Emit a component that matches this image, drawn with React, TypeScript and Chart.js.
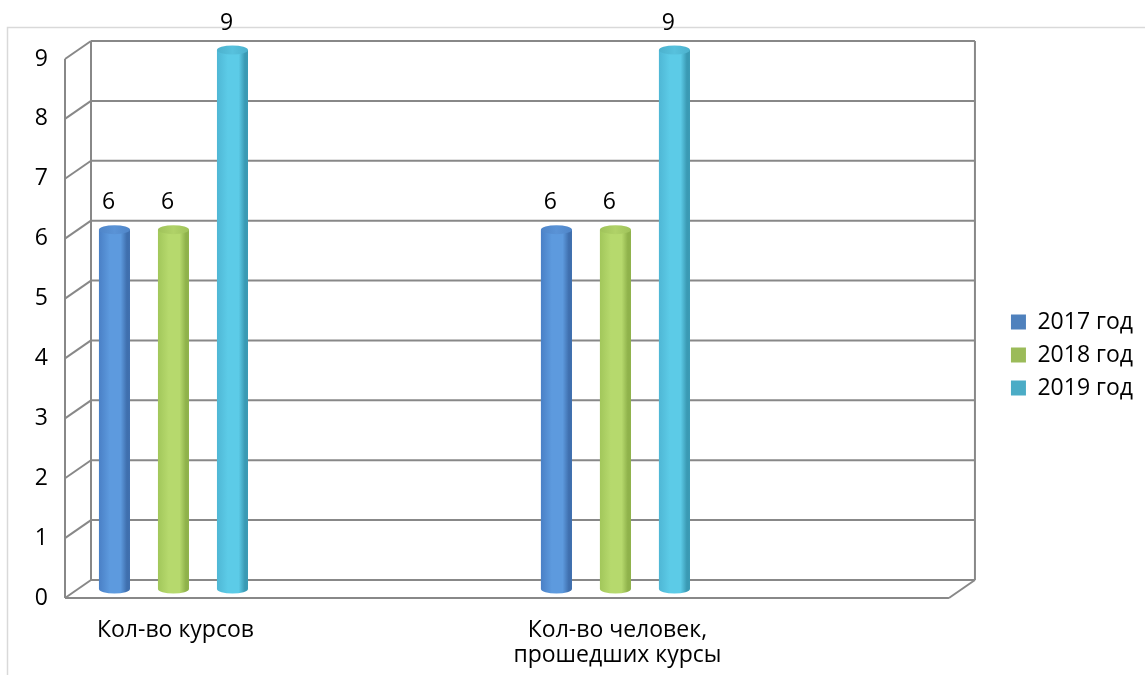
import React, { useEffect, useRef } from 'react';
import { Chart, registerables } from 'chart.js';

Chart.register(...registerables);

// ---- data ----
const CATEGORIES: string[][] = [['Кол-во курсов'], ['Кол-во человек,', 'прошедших курсы']];
const SERIES_LABELS: string[] = ['2017 год', '2018 год', '2019 год'];
const VALUES_2017: number[] = [6, 6];
const VALUES_2018: number[] = [6, 6];
const VALUES_2019: number[] = [9, 9];
const Y_TICKS: number[] = [0, 1, 2, 3, 4, 5, 6, 7, 8, 9];

// ---- styles ----
const FONT_FAMILY = '"Open Sans", "Noto Sans", sans-serif';
const FONT_SIZE = 23;
const LEGEND_COLORS = ['#4f81bd', '#9bbb59', '#4bacc6'];
const CYL = [
  { edgeL: '#4a80c6', mid: '#5d9ade', edgeR: '#3f6fae', lid: '#4f85c8', lidHi: '#5a93d6' },
  { edgeL: '#a2c75b', mid: '#b6d96d', edgeR: '#8fb24b', lid: '#9fc25a', lidHi: '#b0d268' },
  { edgeL: '#4fb7d5', mid: '#5ccbe7', edgeR: '#3a9ab4', lid: '#4cb1cd', lidHi: '#57c1dd' },
];
const GRID_COLOR = '#888888';
const DEPTH_X = 13;
const DEPTH_Y = 9;

const framePlugin = {
  id: 'frame3d',
  beforeDraw(chart: any) {
    const { ctx } = chart;
    ctx.save();
    ctx.strokeStyle = '#d9d9d9';
    ctx.lineWidth = 1.5;
    ctx.beginPath();
    ctx.moveTo(7.5, 676);
    ctx.lineTo(7.5, 27.5);
    ctx.lineTo(1146, 27.5);
    ctx.stroke();
    ctx.restore();
  },
  beforeDatasetsDraw(chart: any) {
    const { ctx, chartArea } = chart;
    const y = chart.scales.y;
    const left = chartArea.left;
    const right = chartArea.right;
    const yTop = y.getPixelForValue(Y_TICKS[Y_TICKS.length - 1]);
    const yBot = y.getPixelForValue(Y_TICKS[0]);
    ctx.save();
    ctx.strokeStyle = GRID_COLOR;
    ctx.lineWidth = 2;
    ctx.lineCap = 'butt';
    const line = (x1: number, y1: number, x2: number, y2: number) => {
      ctx.beginPath();
      ctx.moveTo(x1, y1);
      ctx.lineTo(x2, y2);
      ctx.stroke();
    };
    Y_TICKS.forEach((t) => {
      const py = y.getPixelForValue(t);
      line(left + DEPTH_X, py - DEPTH_Y, right + DEPTH_X, py - DEPTH_Y);
      line(left - DEPTH_X, py + DEPTH_Y, left + DEPTH_X, py - DEPTH_Y);
    });
    line(left + DEPTH_X, yTop - DEPTH_Y, left + DEPTH_X, yBot - DEPTH_Y);
    line(right + DEPTH_X, yTop - DEPTH_Y, right + DEPTH_X, yBot - DEPTH_Y);
    line(left - DEPTH_X, yTop + DEPTH_Y, left - DEPTH_X, yBot + DEPTH_Y);
    line(left - DEPTH_X, yBot + DEPTH_Y, right - DEPTH_X, yBot + DEPTH_Y);
    line(right - DEPTH_X, yBot + DEPTH_Y, right + DEPTH_X, yBot - DEPTH_Y);
    ctx.restore();
  },
  afterDatasetsDraw(chart: any) {
    const { ctx } = chart;
    ctx.save();
    chart.data.datasets.forEach((ds: any, di: number) => {
      const meta = chart.getDatasetMeta(di);
      const c = CYL[di];
      meta.data.forEach((bar: any, i: number) => {
        const { x, y, base, width } = bar.getProps(['x', 'y', 'base', 'width'], true);
        const l = x - width / 2;
        const r = x + width / 2;
        const ry = 4.5;
        const g = ctx.createLinearGradient(l, 0, r, 0);
        g.addColorStop(0, c.edgeL);
        g.addColorStop(0.35, c.mid);
        g.addColorStop(0.7, c.mid);
        g.addColorStop(0.9, c.edgeR);
        g.addColorStop(1, c.edgeR);
        ctx.fillStyle = g;
        ctx.beginPath();
        ctx.moveTo(l, y);
        ctx.lineTo(l, base);
        ctx.ellipse(x, base, width / 2, ry, 0, Math.PI, 0, true);
        ctx.lineTo(r, y);
        ctx.closePath();
        ctx.fill();
        const lg = ctx.createLinearGradient(l, 0, r, 0);
        lg.addColorStop(0, c.lid);
        lg.addColorStop(0.5, c.lidHi);
        lg.addColorStop(1, c.lid);
        ctx.fillStyle = lg;
        ctx.beginPath();
        ctx.ellipse(x, y, width / 2, ry, 0, 0, Math.PI * 2);
        ctx.fill();
        // value label
        ctx.fillStyle = '#000000';
        ctx.font = `${FONT_SIZE}px ${FONT_FAMILY}`;
        ctx.textAlign = 'center';
        ctx.textBaseline = 'middle';
        ctx.fillText(String(ds.data[i].y), x - 6, y - 27);
      });
    });
    ctx.restore();
  },
};

export default function App() {
  const ref = useRef<HTMLCanvasElement | null>(null);
  useEffect(() => {
    if (!ref.current) return;
    const seriesValues = [VALUES_2017, VALUES_2018, VALUES_2019];
    const chart = new Chart(ref.current, {
      type: 'bar',
      data: {
        datasets: SERIES_LABELS.map((label, si) => ({
          label,
          data: seriesValues[si].map((v, ci) => ({ x: ci, y: v })),
          backgroundColor: LEGEND_COLORS[si],
          borderWidth: 0,
          categoryPercentage: 0.4005,
          barPercentage: 0.525,
        })),
      },
      options: {
        responsive: false,
        animation: false,
        layout: { padding: { left: 0, top: 35, right: 2, bottom: 0 } },
        plugins: {
          legend: {
            position: 'right',
            align: 'center',
            labels: {
              boxWidth: 15,
              boxHeight: 15,
              padding: 10,
              color: '#000000',
              font: { family: FONT_FAMILY, size: FONT_SIZE },
            },
          },
          tooltip: { enabled: false },
        },
        scales: {
          x: {
            type: 'linear',
            offset: false,
            min: -0.216,
            max: 1.784,
            grid: { display: false, drawTicks: false },
            border: { display: false },
            afterBuildTicks: (axis: any) => {
              axis.ticks = CATEGORIES.map((_, i) => ({ value: i }));
            },
            afterFit: (axis: any) => {
              axis.height = 86;
              axis.paddingLeft = 0;
              axis.paddingRight = 0;
            },
            ticks: {
              autoSkip: false,
              maxRotation: 0,
              padding: 29,
              labelOffset: 2,
              color: '#000000',
              font: { family: FONT_FAMILY, size: FONT_SIZE, lineHeight: 1.1 },
              callback: (v: any) => CATEGORIES[v] ?? '',
            },
          },
          xTop: {
            type: 'linear',
            position: 'top',
            display: true,
            grid: { display: false, drawTicks: false },
            border: { display: false },
            ticks: { display: false },
            afterFit: (axis: any) => {
              axis.height = 15;
              axis.paddingLeft = 0;
              axis.paddingRight = 0;
            },
          },
          y: {
            min: 0,
            max: 9,
            grid: { display: false, drawTicks: false },
            border: { display: false },
            afterFit: (axis: any) => {
              axis.width = 78;
              axis.paddingTop = 0;
              axis.paddingBottom = 0;
            },
            ticks: {
              stepSize: 1,
              padding: 30,
              labelOffset: 9,
              color: '#000000',
              font: { family: FONT_FAMILY, size: FONT_SIZE },
            },
          },
          yRight: {
            type: 'linear',
            position: 'right',
            display: true,
            grid: { display: false, drawTicks: false },
            border: { display: false },
            ticks: { display: false },
            afterFit: (axis: any) => {
              axis.width = 39;
              axis.paddingTop = 0;
              axis.paddingBottom = 0;
            },
          },
        },
      },
      plugins: [framePlugin],
    } as any);
    return () => chart.destroy();
  }, []);
  return (
    <div style={{ position: 'fixed', left: 0, top: 0, width: 1145, height: 675, background: '#ffffff' }}>
      <canvas ref={ref} width={1145} height={675} style={{ width: 1145, height: 675, display: 'block' }} />
    </div>
  );
}
